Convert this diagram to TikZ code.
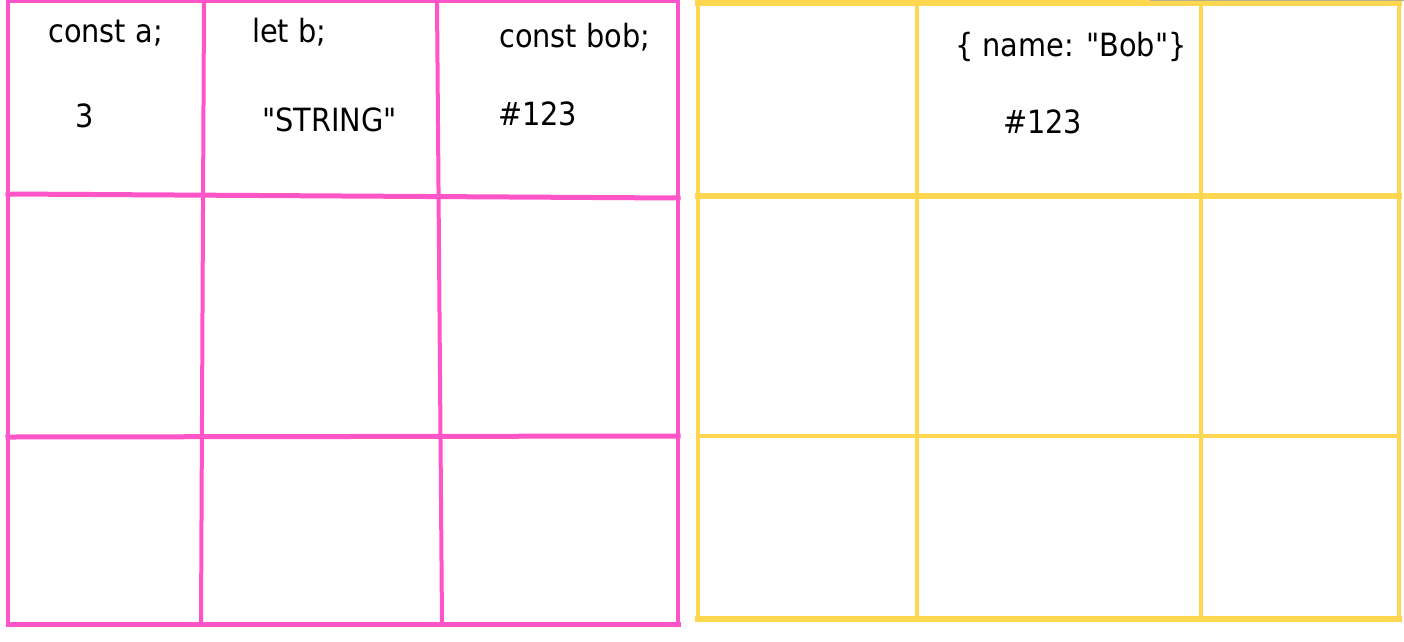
\documentclass[tikz,border=0pt]{standalone}
\usepackage{fontspec}
\newfontfamily\codefont[FakeStretch=0.9]{DejaVu Sans}
\definecolor{pinkline}{HTML}{FF55C9}
\definecolor{yellowline}{HTML}{FFD64F}
\definecolor{greyline}{HTML}{B8B08A}
\tikzset{
  pinkgrid/.style={draw=pinkline, line width=4pt, line cap=rect},
  pinkthick/.style={draw=pinkline, line width=5pt, line cap=rect},
  yellowgrid/.style={draw=yellowline, line width=4pt, line cap=rect},
  yellowthick/.style={draw=yellowline, line width=6pt, line cap=rect},
  codetext/.style={anchor=base west, inner sep=0pt, text=black, font=\codefont\fontsize{32}{38}\selectfont},
}
\begin{document}
\begin{tikzpicture}[x=1pt, y=-1pt]
\fill[white] (0,0) rectangle (1404,641);
\useasboundingbox (0,0) rectangle (1404,641);

% ---------- pink grid ----------
\coordinate (pTL) at (8,1);
\coordinate (pTR) at (678,1);
\coordinate (pBL) at (8,624);
\coordinate (pBR) at (678,624);
\draw[pinkgrid] (pTL) -- (pBL);
\draw[pinkgrid] (pTR) -- (pBR);
\draw[pinkgrid] (pTL) -- (pTR);
\draw[pinkthick] (pBL) -- (pBR);
\coordinate (pv1a) at (204,1);  \coordinate (pv1b) at (201,624);
\coordinate (pv2a) at (437,1);  \coordinate (pv2b) at (442,624);
\draw[pinkgrid] (pv1a) -- (pv1b);
\draw[pinkgrid] (pv2a) -- (pv2b);
\coordinate (ph1a) at (8,194);  \coordinate (ph1b) at (678,198);
\coordinate (ph2a) at (8,437);  \coordinate (ph2b) at (678,436);
\draw[pinkthick] (ph1a) -- (ph1b);
\draw[pinkthick] (ph2a) -- (ph2b);

% ---------- yellow grid ----------
\coordinate (yTL) at (698,3);
\coordinate (yTR) at (1399,3);
\coordinate (yBL) at (698,619);
\coordinate (yBR) at (1399,619);
\draw[yellowgrid] (yTL) -- (yBL);
\draw[yellowgrid] (yTR) -- (yBR);
\draw[yellowthick] (yTL) -- (yTR);
\draw[yellowthick] (yBL) -- (yBR);
\coordinate (yv1a) at (917,3);  \coordinate (yv1b) at (917,619);
\coordinate (yv2a) at (1201,3); \coordinate (yv2b) at (1201,619);
\draw[yellowgrid] (yv1a) -- (yv1b);
\draw[yellowgrid] (yv2a) -- (yv2b);
\coordinate (yh1a) at (698,196); \coordinate (yh1b) at (1399,196);
\coordinate (yh2a) at (698,436); \coordinate (yh2b) at (1399,436);
\draw[yellowthick] (yh1a) -- (yh1b);
\draw[yellowgrid] (yh2a) -- (yh2b);

% faint top edge line
\coordinate (gA) at (1150,0.5); \coordinate (gB) at (1404,0.5);
\draw[greyline, line width=1pt] (gA) -- (gB);

% ---------- texts ----------
\node[codetext] (ta)   at (48,42)   {const a;};
\node[codetext] (tb)   at (252,42)  {let b;};
\node[codetext] (tbob) at (499,47)  {const bob;};
\node[codetext] (va)   at (75,127)  {3};
\node[codetext] (vb)   at (262,131) {"STRING"};
\node[codetext] (vbob) at (498,125) {\#123};
\node[codetext] (obj)  at (955,56)  {\{ name: "Bob"\}};
\node[codetext] (addr) at (1003,133){\#123};
\end{tikzpicture}
\end{document}
